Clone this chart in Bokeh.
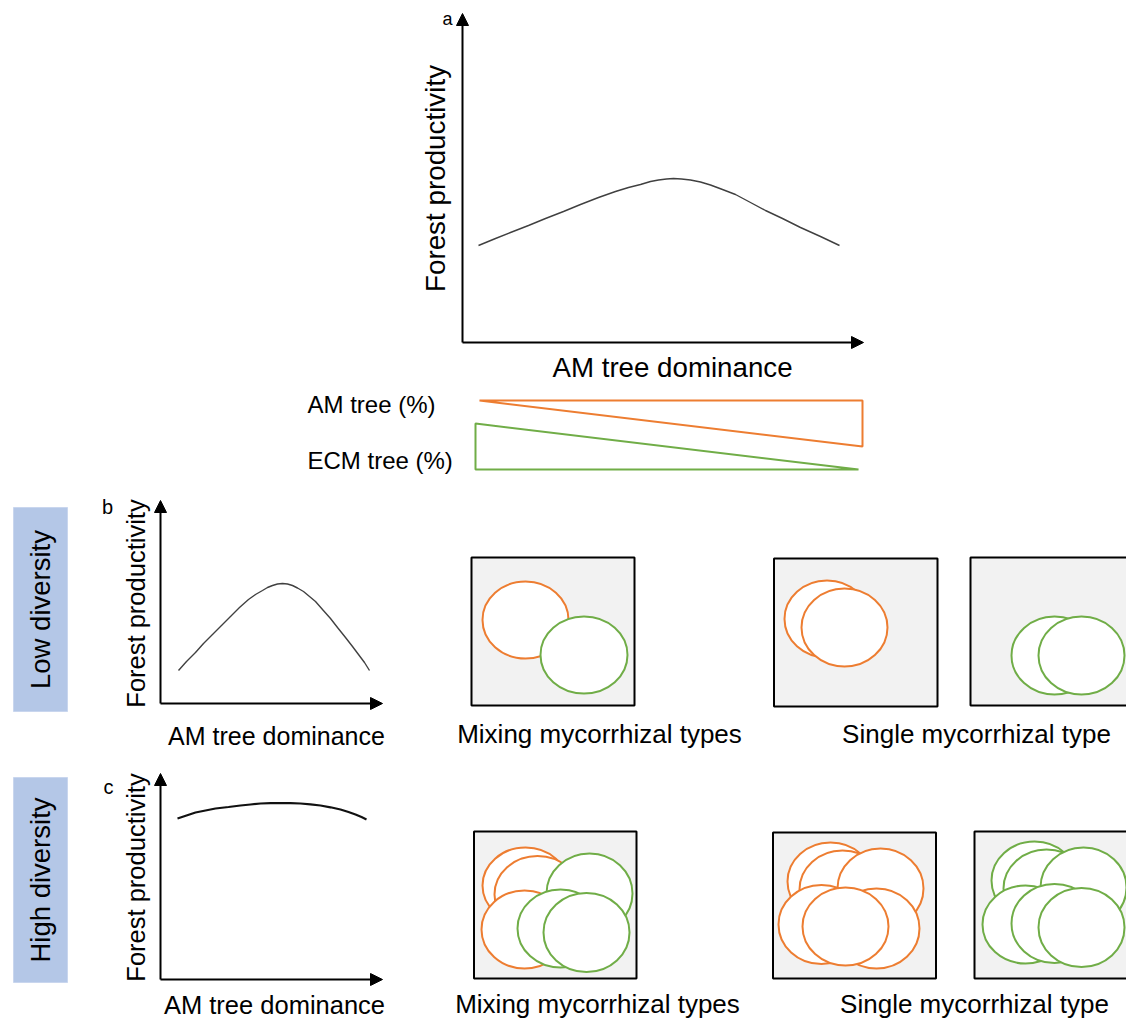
import math
from bokeh.plotting import figure
from bokeh.models import Range1d, ColumnDataSource, Arrow, NormalHead
from bokeh.core.properties import value
from bokeh.embed import file_html
from bokeh.resources import INLINE

FONT = "Liberation Sans"

# ---------------- data (image-pixel coordinates of the schematic) ----------------
# productivity curves
curve_a_x = [478, 495, 510, 528, 545, 563, 580, 598, 615, 628, 640, 650, 658, 666, 673, 681,
             690, 700, 710, 722, 735, 750, 765, 782, 800, 820, 839]
curve_a_y = [245, 238, 232, 225, 218, 211, 204, 197, 191, 187, 184, 181, 179.5, 178.5, 178, 178.5,
             179.5, 181.5, 184.5, 189, 194, 202, 210, 218, 227, 236, 245]
curve_b_x = [178, 186, 195, 203, 212, 221, 230, 239, 248, 255, 262, 267, 272, 277, 282, 287,
             292, 297, 303, 309, 315, 322, 330, 337, 345, 352, 358, 364, 369]
curve_b_y = [670, 661, 652, 643, 634, 625, 616, 607, 599, 594, 590, 587, 585, 583.5, 583, 583.5,
             585, 587.5, 591, 596, 601, 609, 618, 627, 637, 646, 654, 662, 670]
curve_c_x = [177, 186, 195, 205, 215, 228, 240, 250, 260, 270, 280, 290, 300, 310, 320, 330,
             340, 348, 355, 361, 366]
curve_c_y = [818, 815, 812, 810, 808, 806.5, 805, 804, 803, 802.7, 802.5, 802.7, 803, 803.8, 805, 806.8,
             809, 811.5, 814, 816.5, 819]

# axes: origin and arrow tips
axis_x0 = [462, 160, 160]
axis_y0 = [342, 703, 979]
axis_xend = [863, 382, 382]
axis_ytop = [13, 500, 773]

# composition wedges
am_wedge_x = [479, 862, 862]
am_wedge_y = [400, 400, 446]
ecm_wedge_x = [475, 475, 858]
ecm_wedge_y = [423, 469, 469]

# plot boxes (left, right, top, bottom)
box_left = [471, 773.5, 970, 473.5, 772.5, 974]
box_right = [634, 937, 1140, 636, 935.5, 1140]
box_top = [557, 558, 557, 831, 832, 831]
box_bottom = [705, 706, 705, 978, 978, 978]

# tree crowns in drawing order
crown_x = [525, 583.5, 826.5, 844, 1054, 1081,
           525, 537, 589, 524, 560, 586,
           830, 842, 880, 876, 821, 845,
           1034, 1046, 1083, 1025, 1054, 1081]
crown_y = [619.5, 654.5, 618.5, 627, 655, 655,
           885, 894, 893, 929, 928, 932,
           881, 889, 888, 928, 924, 926,
           880, 888, 887, 924, 923, 927]
crown_w = [86, 87, 85, 86, 86, 86,
           86, 86, 86, 86, 86, 86,
           86, 86, 86, 86, 86, 86,
           86, 86, 86, 86, 86, 86]
crown_h = [77, 77, 77, 78, 78, 78,
           76, 77, 80, 78, 78, 79,
           78, 78, 80, 80, 79, 78,
           78, 78, 80, 78, 79, 79]
crown_type = ["AM", "ECM", "AM", "AM", "ECM", "ECM",
              "AM", "AM", "ECM", "AM", "ECM", "ECM",
              "AM", "AM", "AM", "AM", "AM", "AM",
              "ECM", "ECM", "ECM", "ECM", "ECM", "ECM"]

# diversity bands
band_left = [13, 13]
band_right = [67, 67]
band_top = [507, 777]
band_bottom = [711, 982]
band_text = ["Low diversity", "High diversity"]

ORANGE = "#ED7D31"
GREEN = "#70AD47"
type_color = {"AM": ORANGE, "ECM": GREEN}

# ---------------- figure ----------------
p = figure(width=1126, height=1021, x_range=Range1d(0, 1126), y_range=Range1d(1021, 0),
           output_backend="svg", toolbar_location=None, min_border=0)
p.axis.visible = False
p.grid.visible = False
p.outline_line_color = None
p.background_fill_color = "white"
p.border_fill_color = "white"

# diversity bands
p.quad(left=band_left, right=band_right, top=band_top, bottom=band_bottom,
       fill_color="#B4C7E7", line_color="#C9D6EE", line_width=1)
p.text(x=[(l + r) / 2 for l, r in zip(band_left, band_right)],
       y=[(t + b) / 2 for t, b in zip(band_top, band_bottom)],
       text=band_text, angle=math.pi / 2, text_align="center", text_baseline="middle",
       text_font=value(FONT), text_font_size="27.5px", text_color="black")

# axes with arrows
for x0, y0, xe, yt in zip(axis_x0, axis_y0, axis_xend, axis_ytop):
    p.add_layout(Arrow(end=NormalHead(size=12, fill_color="black", line_color="black"),
                       x_start=x0, y_start=y0, x_end=xe, y_end=y0,
                       line_width=2, line_color="black"))
    p.add_layout(Arrow(end=NormalHead(size=12, fill_color="black", line_color="black"),
                       x_start=x0, y_start=y0, x_end=x0, y_end=yt,
                       line_width=2, line_color="black"))

# curves
p.line(curve_a_x, curve_a_y, line_color="#404040", line_width=1.4)
p.line(curve_b_x, curve_b_y, line_color="#404040", line_width=1.4)
p.line(curve_c_x, curve_c_y, line_color="#111111", line_width=2.2)

# wedges
p.patch(am_wedge_x, am_wedge_y, fill_color=None, line_color=ORANGE, line_width=2)
p.patch(ecm_wedge_x, ecm_wedge_y, fill_color=None, line_color=GREEN, line_width=2)

# boxes
p.quad(left=box_left, right=box_right, top=box_top, bottom=box_bottom,
       fill_color="#F2F2F2", line_color="black", line_width=2)

# crowns
src = ColumnDataSource(dict(x=crown_x, y=crown_y, w=crown_w, h=crown_h,
                            c=[type_color[t] for t in crown_type]))
p.ellipse(x="x", y="y", width="w", height="h", source=src,
          fill_color="white", line_color="c", line_width=2)

# texts
def txt(x, y, s, size, align="center", angle=0.0):
    p.text(x=[x], y=[y], text=[s], angle=angle, text_align=align, text_baseline="middle",
           text_font=value(FONT), text_font_size=size, text_color="black")

txt(447, 18, "a", "18px")
txt(107, 506, "b", "20px")
txt(108, 786, "c", "20px")

txt(435, 178, "Forest productivity", "27.8px", angle=math.pi / 2)
txt(672, 367, "AM tree dominance", "27.7px")
txt(307, 404, "AM tree (%)", "24px", align="left")
txt(307, 460, "ECM tree (%)", "24px", align="left")

txt(135, 603, "Forest productivity", "25.5px", angle=math.pi / 2)
txt(276, 735, "AM tree dominance", "25px")
txt(135, 877, "Forest productivity", "25.5px", angle=math.pi / 2)
txt(274, 1004, "AM tree dominance", "25.5px")

txt(599, 733, "Mixing mycorrhizal types", "26px")
txt(976, 733, "Single mycorrhizal type", "26px")
txt(597, 1003, "Mixing mycorrhizal types", "26px")
txt(974, 1003, "Single mycorrhizal type", "26px")

open("out.html", "w").write(file_html(p, INLINE))
